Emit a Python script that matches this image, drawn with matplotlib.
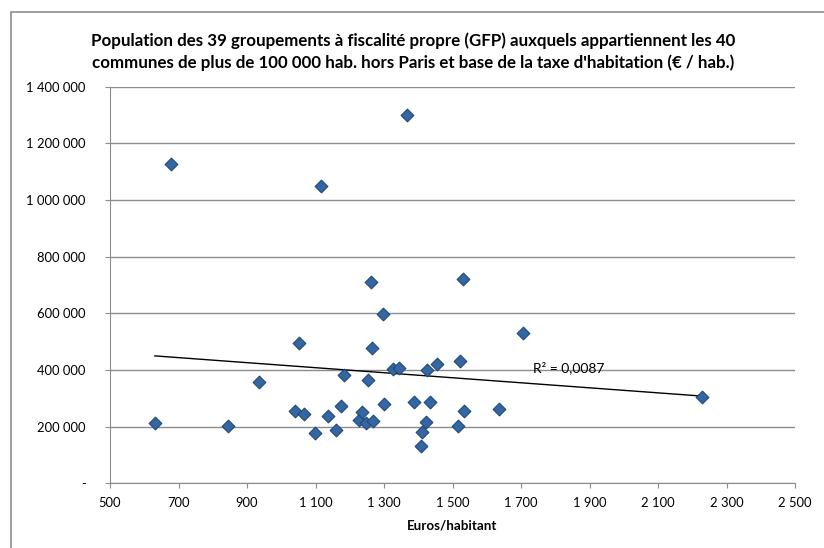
import matplotlib.pyplot as plt
import matplotlib.ticker as mticker
from matplotlib.patches import Rectangle
import numpy as np

# base TH (euros / habitant) and population of each GFP
euros_hab = [631, 678, 845, 934, 1039, 1052, 1065, 1099, 1116, 1136,
             1159, 1174, 1183, 1228, 1236, 1247, 1252, 1262, 1265, 1268,
             1296, 1299, 1327, 1345, 1366, 1389, 1407, 1410, 1424, 1426,
             1434, 1456, 1515, 1522, 1531, 1534, 1637, 1707, 2229]
population = [211700, 1126000, 202000, 357000, 255000, 496000, 244600, 178600, 1049000, 237500,
              187000, 274000, 381000, 222000, 250000, 211700, 363000, 710000, 476000, 221000,
              596000, 281000, 403000, 407000, 1300000, 286000, 132700, 182000, 215000, 400000,
              286000, 420000, 203000, 432700, 721000, 256000, 263000, 529000, 304500]

title = ("Population des 39 groupements à fiscalité propre (GFP) auxquels appartiennent les 40\n"
         "communes de plus de 100 000 hab. hors Paris et base de la taxe d'habitation (€ / hab.)")
r2_label = "R² = 0,0087"

plt.rcParams['font.family'] = ['Lato', 'DejaVu Sans']

fig = plt.figure(figsize=(8.24, 5.48), dpi=100)
ax = fig.add_axes([110 / 824, 1 - 483.3 / 548, 685 / 824, (483.3 - 86.6) / 548])

# outer chart frame (only top and left visible in the crop)
fig.patches.append(Rectangle((11 / 824, -0.1), 1.2, 1 - 12 / 548 + 0.1,
                             transform=fig.transFigure, fill=False,
                             edgecolor='#8c8c8c', linewidth=1.2))

x = np.array(euros_hab, dtype=float)
y = np.array(population, dtype=float)
ax.scatter(x, y, marker='D', s=42, color='#35669f', edgecolor='#1f4a80',
           linewidth=0.8, zorder=3)

# linear trend line
a, b = np.polyfit(x, y, 1)
xt = np.array([x.min(), x.max()])
ax.plot(xt, a * xt + b, color='black', linewidth=1.0, zorder=2)
ax.text(1735, 407000, r2_label, fontsize=10, va='center', ha='left')

ax.set_xlim(500, 2500)
ax.set_ylim(0, 1400000)
ax.set_xticks(np.arange(500, 2501, 200))
ax.set_yticks(np.arange(0, 1400001, 200000))


def fmt_space(v, pos):
    if v == 0:
        return '-'
    return f"{int(v):,}".replace(',', ' ')


ax.xaxis.set_major_formatter(mticker.FuncFormatter(lambda v, p: f"{int(v):,}".replace(',', ' ')))
ax.yaxis.set_major_formatter(mticker.FuncFormatter(fmt_space))

ax.grid(axis='y', color='#8c8c8c', linewidth=1.0)
ax.set_axisbelow(True)
for s in ['top', 'right']:
    ax.spines[s].set_visible(False)
for s in ['left', 'bottom']:
    ax.spines[s].set_color('#8c8c8c')
ax.tick_params(axis='both', colors='#8c8c8c', labelcolor='black', labelsize=9.4,
               length=3.6, direction='out')
ax.tick_params(axis='y', pad=14)
ax.tick_params(axis='x', pad=6)

ax.set_xlabel("Euros/habitant", fontsize=9.6, fontweight='bold', labelpad=8)
fig.text(0.501, 1 - 52 / 548, title, ha='center', va='center', fontsize=12.2,
         fontweight='bold', linespacing=1.4)

fig.savefig('out.png', dpi=100)
